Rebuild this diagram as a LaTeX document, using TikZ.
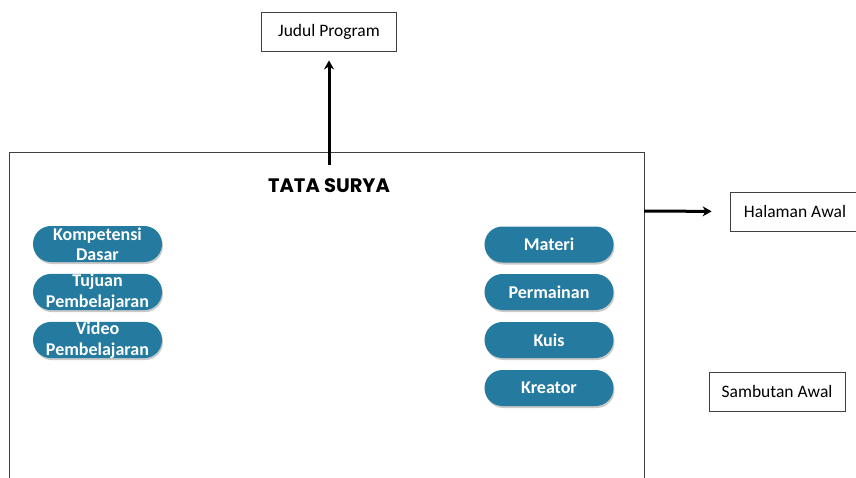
\documentclass[tikz,border=0pt]{standalone}
\usepackage{fontspec}
\setmainfont{Carlito}
\newfontfamily\titlefont{Poppins}
\usetikzlibrary{arrows.meta,shadows}
\definecolor{pillblue}{HTML}{247A9F}
\definecolor{framegray}{HTML}{404040}
\tikzset{
  pill/.style={rectangle, rounded corners=17.9pt, fill=pillblue, text=white, font=\fontsize{18}{20.5}\selectfont\bfseries,
    minimum width=129pt, minimum height=36pt, inner sep=0pt, align=center,
    drop shadow={shadow xshift=1pt, shadow yshift=-2pt, opacity=0.35, fill=black!60}},
  labelbox/.style={draw=framegray, line width=0.8pt, fill=white, font=\fontsize{17.5}{20}\selectfont,
    minimum height=39pt, inner sep=0pt},
  bigarrow/.style={line width=3pt, -{Stealth[length=9pt,width=10pt]}}
}
\begin{document}
\begin{tikzpicture}[x=1pt,y=-1pt]
\useasboundingbox (0,0) rectangle (856,477);
% frame
\draw[framegray, line width=0.9pt] (9,478) -- (9,152) -- (644,152) -- (644,478);
% title
\node[font=\titlefont\fontsize{19.5}{22}\selectfont\bfseries] (title) at (329,186) {TATA SURYA};
% outside labels
\node[labelbox, minimum width=135pt] (judul) at (329,31.5) {Judul Program};
\node[labelbox, minimum width=128pt] (halaman) at (794,211.5) {\hspace*{2pt}Halaman Awal};
\node[labelbox, minimum width=136pt] (sambutan) at (777,391.5) {Sambutan Awal};
% arrows
\coordinate (frameR) at (644,211);
\draw[bigarrow, shorten >=9pt] (329,165) -- (judul.south);
\draw[bigarrow, shorten >=18pt] (frameR) -- (halaman.west);
% left pills
\node[pill] (kd) at (97.5,244) {Kompetensi\\Dasar};
\node[pill] (tp) at (97.5,292) {Tujuan\\Pembelajaran};
\node[pill] (vp) at (97.5,340) {Video\\Pembelajaran};
% right pills
\node[pill] (materi) at (549,244.5) {Materi};
\node[pill] (permainan) at (549,292) {Permainan};
\node[pill] (kuis) at (549,340) {Kuis};
\node[pill] (kreator) at (549,388) {Kreator};
\end{tikzpicture}
\end{document}
